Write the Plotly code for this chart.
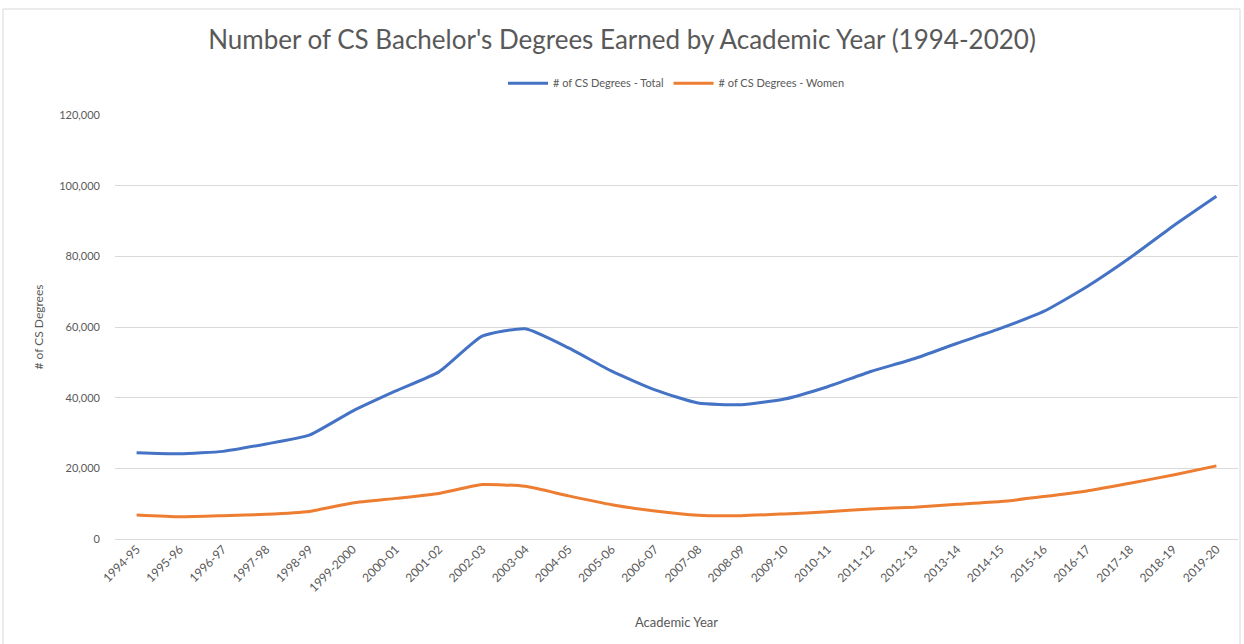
import plotly.graph_objects as go

years = ["1994-95", "1995-96", "1996-97", "1997-98", "1998-99", "1999-2000",
         "2000-01", "2001-02", "2002-03", "2003-04", "2004-05", "2005-06",
         "2006-07", "2007-08", "2008-09", "2009-10", "2010-11", "2011-12",
         "2012-13", "2013-14", "2014-15", "2015-16", "2016-17", "2017-18",
         "2018-19", "2019-20"]

total = [24400, 24100, 24800, 26900, 29400, 36200,
         41900, 47300, 57400, 59500, 54100, 47500,
         42200, 38500, 38000, 39600, 43100, 47400,
         51000, 55400, 59600, 64400, 71400, 79600,
         88600, 97000]

women = [6800, 6300, 6600, 7000, 7800, 10200,
         11500, 12900, 15400, 14900, 12200, 9700,
         7900, 6700, 6600, 7100, 7700, 8500,
         9000, 9800, 10600, 12000, 13600, 15800,
         18100, 20700]

ytick_vals = [0, 20000, 40000, 60000, 80000, 100000, 120000]

grey = "#595959"
font_family = "Lato, 'Open Sans', sans-serif"

fig = go.Figure()
fig.add_trace(go.Scatter(x=years, y=total, mode="lines", line_shape="spline",
                         line_smoothing=0.5,
                         name="# of CS Degrees - Total",
                         line=dict(color="#4472C4", width=3)))
fig.add_trace(go.Scatter(x=years, y=women, mode="lines", line_shape="spline",
                         line_smoothing=0.5,
                         name="# of CS Degrees - Women",
                         line=dict(color="#ED7D31", width=3)))

fig.update_layout(
    width=1244, height=644,
    margin=dict(l=115, r=6, t=115, b=105),
    paper_bgcolor="white", plot_bgcolor="white",
    font=dict(family=font_family, color=grey, size=11),
    title=dict(text="Number of CS Bachelor's Degrees Earned by Academic Year (1994-2020)",
               x=0.5, xanchor="center", xref="container",
               y=1 - 40 / 644, yanchor="middle", yref="container",
               font=dict(size=26, color=grey, family=font_family)),
    legend=dict(orientation="h", x=0.5, xanchor="center", y=1.075, yanchor="middle",
                font=dict(size=11, color=grey), itemwidth=40, bgcolor="rgba(0,0,0,0)"),
    showlegend=True,
)

fig.update_xaxes(
    type="category", range=[-0.5, len(years) - 0.5], tickangle=-45,
    showgrid=False, showline=False, ticks="",
    tickfont=dict(size=12, color=grey),
    title=dict(text="Academic Year", font=dict(size=13, color=grey), standoff=24),
)
fig.update_yaxes(
    range=[0, 120000], tickvals=ytick_vals, tickformat=",",
    showgrid=True, gridcolor="#D9D9D9", gridwidth=1,
    zeroline=True, zerolinecolor="#D9D9D9", zerolinewidth=1,
    showline=False, ticks="", ticklabelstandoff=14,
    tickfont=dict(size=11, color=grey),
    title=dict(text="# of CS Degrees", font=dict(size=12, color=grey), standoff=13),
)

fig.add_shape(type="rect", xref="paper", yref="paper",
              x0=-112 / 1123, x1=1 + 2 / 1123, y0=-110 / 424, y1=1 + 106 / 424,
              line=dict(color="#D9D9D9", width=1), fillcolor="rgba(0,0,0,0)", layer="below")

fig.write_html("out.html", config={"displayModeBar": False},
               post_script="document.body.style.margin='0';")
